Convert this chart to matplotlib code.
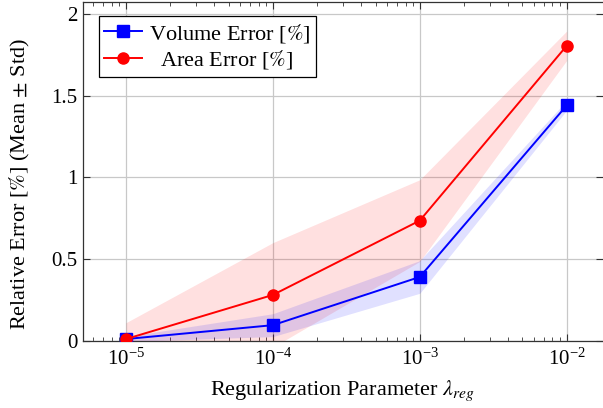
import numpy as np
import matplotlib
matplotlib.use("Agg")
import matplotlib.pyplot as plt
from matplotlib.ticker import LogLocator, NullFormatter, FixedLocator

plt.rcParams['font.family'] = ['Liberation Serif', 'DejaVu Serif']
plt.rcParams['mathtext.fontset'] = 'stix'

lambdas = [1e-5, 1e-4, 1e-3, 1e-2]
vol_mean = [0.01, 0.095, 0.39, 1.44]
vol_std = [0.015, 0.07, 0.10, 0.03]
area_mean = [0.01, 0.28, 0.735, 1.805]
area_std = [0.10, 0.32, 0.25, 0.09]
yticks = [0, 0.5, 1, 1.5, 2]
ytick_labels = ['0', '0.5', '1', '1.5', '2']

fig = plt.figure(figsize=(6.03, 4.08), dpi=100)
ax = fig.add_axes([0.137, 0.165, 0.863, 0.831])

lam = np.array(lambdas)
vm, vs = np.array(vol_mean), np.array(vol_std)
am, as_ = np.array(area_mean), np.array(area_std)

ax.fill_between(lam, am - as_, am + as_, color='red', alpha=0.12, linewidth=0, zorder=2)
ax.fill_between(lam, vm - vs, vm + vs, color='blue', alpha=0.12, linewidth=0, zorder=2)
ax.plot(lam, vm, color='blue', marker='s', markersize=8, linewidth=1.4,
        label=r'Volume Error [$\%$]', zorder=4)
ax.plot(lam, am, color='red', marker='o', markersize=8, linewidth=1.4,
        label=r'  Area Error [$\%$]', zorder=5)

ax.set_xscale('log')
ax.set_xlim(10 ** -5.295, 10 ** -1.753)
ax.set_ylim(0, 2.075)
ax.yaxis.set_major_locator(FixedLocator(yticks))
ax.set_yticklabels(ytick_labels)
ax.xaxis.set_major_locator(LogLocator(base=10, numticks=10))
ax.xaxis.set_minor_locator(LogLocator(base=10, subs=np.arange(2, 10), numticks=20))
ax.xaxis.set_minor_formatter(NullFormatter())

ax.grid(True, which='major', color='#c8c8c8', linewidth=0.9, zorder=0)
ax.set_axisbelow(True)
ax.tick_params(which='both', direction='in', top=True, right=True, labelsize=15, colors='#333333', labelcolor='black')
ax.tick_params(which='major', length=5, width=0.8)
ax.tick_params(which='minor', length=3, width=0.6)
ax.tick_params(axis='x', pad=6)
ax.spines['right'].set_visible(False)
for s in ['left', 'bottom', 'top']:
    ax.spines[s].set_color('#333333')
    ax.spines[s].set_linewidth(0.9)

ax.set_xlabel(r'Regularization Parameter $\lambda_{reg}$', fontsize=16, labelpad=6)
ax.set_ylabel(r'Relative Error [$\%$] (Mean $\pm$ Std)', fontsize=16)
ax.yaxis.set_label_coords(-0.097, 0.462)

leg = ax.legend(loc='upper left', bbox_to_anchor=(0.01, 0.99), fontsize=16, frameon=True,
                fancybox=False, edgecolor='black', framealpha=1, borderpad=0.25,
                handlelength=1.67, labelspacing=0.17, handletextpad=0.35)
leg.get_frame().set_linewidth(0.9)

fig.savefig('out.png', dpi=100)
